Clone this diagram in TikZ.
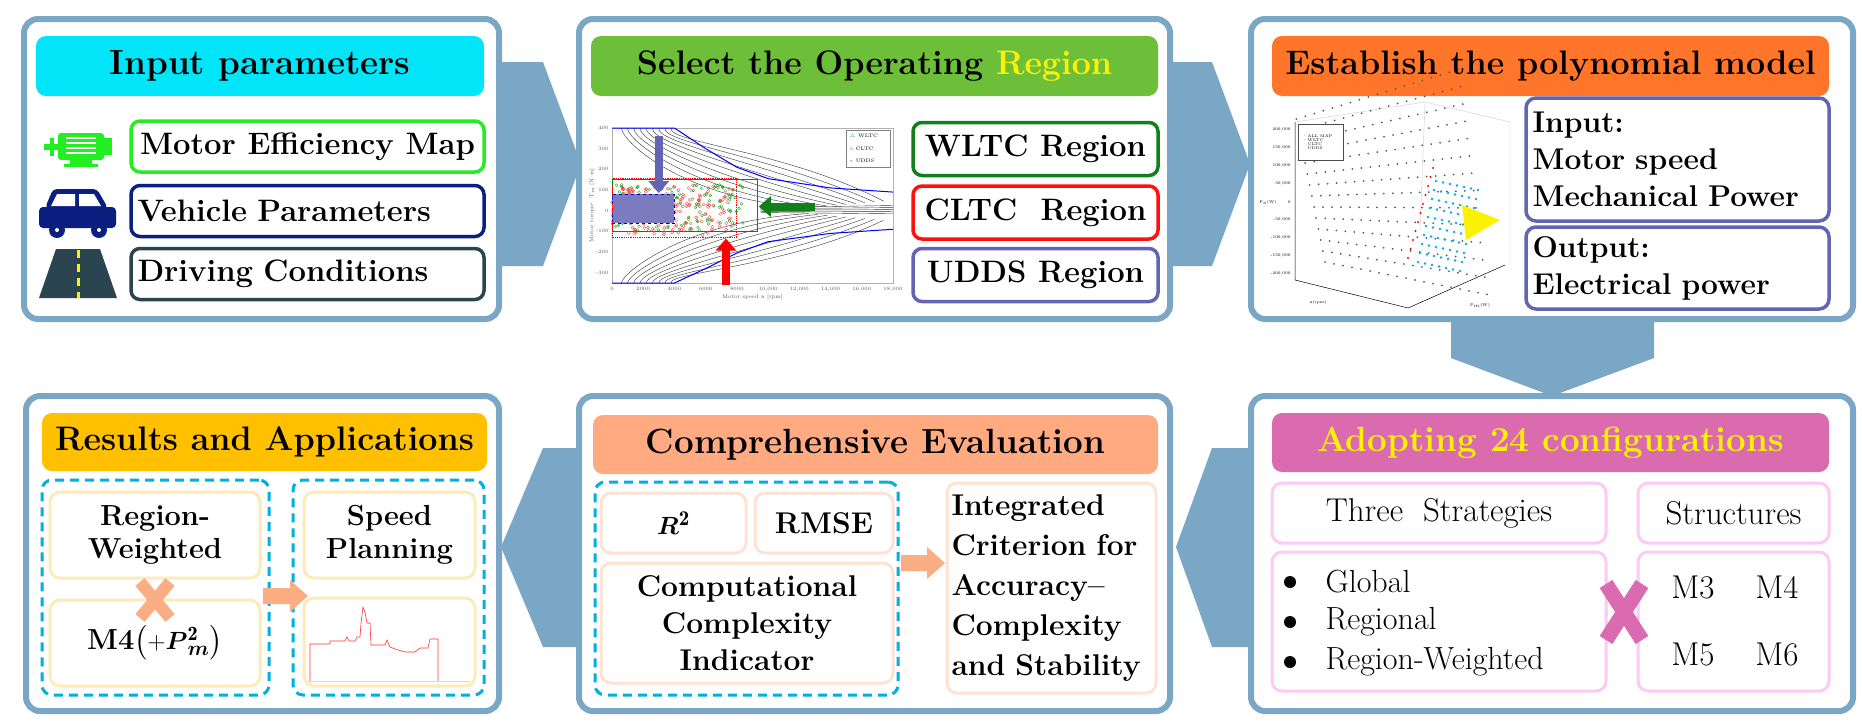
\documentclass[tikz,border=0pt]{standalone}
\usepackage{amsmath,amssymb}
\usepackage{fontspec}
\usetikzlibrary{arrows.meta}
\definecolor{pb}{HTML}{7BA7C7}
\definecolor{hcyan}{HTML}{00E5F7}
\definecolor{hgreen}{HTML}{6DBF3A}
\definecolor{horange}{HTML}{FF7529}
\definecolor{hmag}{HTML}{D96BAE}
\definecolor{hsal}{HTML}{FFAA80}
\definecolor{hgold}{HTML}{FFC000}
\definecolor{mgreen}{HTML}{22EE22}
\definecolor{navy}{HTML}{0A1F80}
\definecolor{slate}{HTML}{2B4550}
\definecolor{dgreen}{HTML}{11801A}
\definecolor{ured}{HTML}{FF1010}
\definecolor{upurp}{HTML}{6464B4}
\definecolor{dashb}{HTML}{00B0E0}
\definecolor{peach}{HTML}{FFE2D2}
\definecolor{cream}{HTML}{FFEBB8}
\definecolor{lpink}{HTML}{FFC8F5}
\definecolor{pinkx}{HTML}{DA6BB0}
\definecolor{orx}{HTML}{FBAE84}
\begin{document}
\begin{tikzpicture}[x=1pt,y=-1pt,
  panel/.style={draw=pb,line width=6pt,rounded corners=14pt,fill=white},
  head/.style={rounded corners=10pt,font=\fontsize{35}{38}\selectfont\bfseries},
  lbox/.style={draw,line width=3.5pt,rounded corners=9pt,fill=white,font=\fontsize{31}{34}\selectfont\bfseries},
  iobox/.style={draw=upurp,line width=3.5pt,rounded corners=10pt,align=left,font=\fontsize{30}{37}\selectfont\bfseries,text width=290pt},
  pkbox/.style={draw=lpink,line width=3pt,rounded corners=10pt,font=\fontsize{33}{36}\selectfont},
  pebox/.style={draw=peach,line width=3pt,rounded corners=10pt,align=center,font=\fontsize{30}{37}\selectfont\bfseries},
  crbox/.style={draw=cream,line width=3pt,rounded corners=10pt,align=center,font=\fontsize{29}{33}\selectfont\bfseries},
  dshbox/.style={draw=dashb,line width=3pt,dash pattern=on 9pt off 6pt,rounded corners=10pt},
  arr/.style={fill=pb},
  declare function={mx(\XX)=612+\XX*15.611; my(\YY)=283-(\YY+350)*0.206667;}]
\useasboundingbox (0,0) rectangle (1862,721);
\fill[white] (0,0) rectangle (1862,721);
% big arrows
\fill[arr] (480,62)--(543,62)--(581,164)--(543,266)--(480,266)--cycle;
\fill[arr] (1150,62)--(1212,62)--(1250,164)--(1212,266)--(1150,266)--cycle;
\fill[arr] (1451,300)--(1654,300)--(1654,358)--(1552,396)--(1451,358)--cycle;
\fill[arr] (1270,448)--(1212,448)--(1176,547)--(1212,647)--(1270,647)--cycle;
\fill[arr] (600,448)--(543,448)--(501,547)--(543,647)--(600,647)--cycle;
% panels
\node[panel,minimum width=475pt,minimum height=300pt] (p1) at (261.5,169) {};
\node[panel,minimum width=591pt,minimum height=300pt] (p2) at (874.5,169) {};
\node[panel,minimum width=602pt,minimum height=300pt] (p3) at (1552,169) {};
\node[panel,minimum width=473pt,minimum height=315pt] (p4) at (262.5,553.5) {};
\node[panel,minimum width=591pt,minimum height=315pt] (p5) at (874.5,553.5) {};
\node[panel,minimum width=602pt,minimum height=315pt] (p6) at (1552,553.5) {};
% headers
\node[head,fill=hcyan,minimum width=448pt,minimum height=60pt] (h1) at (260,66) {Input parameters};
\node[head,fill=hgreen,minimum width=567pt,minimum height=60pt,font=\fontsize{34}{38}\selectfont\bfseries] (h2) at (874.5,66) {Select the Operating \textcolor{yellow}{Region}};
\node[head,fill=horange,minimum width=557pt,minimum height=60pt,inner xsep=2pt,font=\fontsize{34}{38}\selectfont\bfseries] (h3) at (1550.5,66) {Establish the polynomial model};
\node[head,fill=hgold,minimum width=445pt,minimum height=58pt,inner xsep=2pt,font=\fontsize{34}{38}\selectfont\bfseries] (h4) at (264.5,442) {Results and Applications};
\node[head,fill=hsal,minimum width=565pt,minimum height=59pt] (h5) at (875.5,444.5) {Comprehensive Evaluation};
\node[head,fill=hmag,minimum width=557pt,minimum height=59pt,text=yellow] (h6) at (1550.5,442.5) {Adopting 24 configurations};
% panel 1
\node[lbox,draw=mgreen,minimum width=353pt,minimum height=51pt,inner xsep=2pt] (b1) at (307.5,146.5) {Motor Efficiency Map};
\node[lbox,draw=navy,minimum width=353pt,minimum height=51pt,text width=340pt,align=left] (b2) at (307.5,211) {Vehicle Parameters};
\node[lbox,draw=slate,minimum width=353pt,minimum height=51pt,text width=340pt,align=left] (b3) at (307.5,274) {Driving Conditions};
% motor icon
\fill[mgreen,rounded corners=3pt] (58,133) rectangle (104,160);
\fill[mgreen] (104,138) rectangle (112,155);
\fill[mgreen] (44,144) rectangle (58,150);
\fill[mgreen] (50,138) rectangle (54,156);
\fill[mgreen] (70,160) rectangle (92,164);\fill[mgreen] (64,164) rectangle (98,167);
\foreach \yy in {138,143,148,153}{\draw[white,line width=1.5pt] (66,\yy)--(96,\yy);}
% car icon
\fill[navy,rounded corners=4pt] (39,207) rectangle (116,228);
\fill[navy,rounded corners=4pt] (53,189)--(97,189)--(108,208)--(45,208)--cycle;
\fill[white] (57,194)--(75,194)--(75,206)--(51,206)--cycle;
\fill[white] (79,194)--(94,194)--(101,206)--(79,206)--cycle;
\fill[navy] (57,230) circle (8pt);\fill[navy] (99,230) circle (8pt);
\fill[white] (57,230) circle (2pt);\fill[white] (99,230) circle (2pt);
% road icon
\fill[slate] (56,249)--(100,249)--(117,298)--(39,298)--cycle;
\draw[yellow,line width=3pt,dash pattern=on 8pt off 6pt] (78,250)--(78,298);
% panel 2 region boxes
\node[lbox,draw=dgreen,minimum width=245pt,minimum height=53pt] (w) at (1035.5,149) {WLTC Region};
\node[lbox,draw=ured,minimum width=245pt,minimum height=53pt] (c) at (1035.5,212.5) {CLTC~ Region};
\node[lbox,draw=upurp,minimum width=245pt,minimum height=53pt] (u) at (1035.5,275) {UDDS Region};
% motor map chart
\begin{scope}
\draw[gray!60,line width=0.5pt] (612,128) rectangle (893,283);
\foreach \spd/\lb in {0/0,2/2000,4/4000,6/6000,8/8000,10/10{,}000,12/12{,}000,14/14{,}000,16/16{,}000,18/18{,}000}
  \node[font=\fontsize{5}{5}\selectfont,gray!70!black] at ({mx(\spd)},289) {\lb};
\foreach \tq in {400,300,200,100,0,-100,-200,-300}
  \node[font=\fontsize{5}{5}\selectfont,gray!70!black,anchor=east] at (612,{my(\tq)}) {\tq};
\node[font=\fontsize{5.5}{6}\selectfont,gray!70!black] at ({mx(9)},297) {Motor speed n [rpm]};
\node[font=\fontsize{5.5}{6}\selectfont,gray!70!black,rotate=90] at (592,{my(25)}) {Motor torque\ \ T$_m$ [N$\cdot$m]};
\foreach \k in {1,...,9}{
  \draw[black!80,line width=0.4pt] ({mx(12+0.6*\k)},{my(10+4*\k)}) .. controls ({mx(4+0.8*\k)},{my(20+30*\k)}) and ({mx(0.3+0.35*\k)},{my(330)}) .. ({mx(0.2+0.4*\k)},{my(400)});
  \draw[black!80,line width=0.4pt] ({mx(12+0.6*\k)},{my(-10-4*\k)}) .. controls ({mx(4+0.8*\k)},{my(-20-28*\k)}) and ({mx(0.3+0.35*\k)},{my(-300)}) .. ({mx(0.2+0.4*\k)},{my(-350)});}
\foreach \k in {1,...,5}{\draw[black!80,line width=0.4pt] ({mx(9.5)},{my(6*\k-15)})--({mx(18)},{my(10*\k-25)});}
\draw[blue,line width=1pt] ({mx(0)},{my(400)})--({mx(4)},{my(400)})--({mx(6)},{my(300)})--({mx(8)},{my(210)})--({mx(10)},{my(155)})--({mx(14)},{my(110)})--({mx(18)},{my(90)});
\draw[blue,line width=1pt] ({mx(0)},{my(-350)})--({mx(4)},{my(-350)})--({mx(6)},{my(-280)})--({mx(8)},{my(-205)})--({mx(10)},{my(-150)})--({mx(14)},{my(-110)})--({mx(18)},{my(-90)});
\draw[green!55!black,line width=0.6pt] ({mx(0)},{my(-100)}) rectangle ({mx(9.3)},{my(150)});
\pgfmathsetseed{7}
\foreach \i in {1,...,160}{
  \pgfmathsetmacro\sx{mx(rnd*8.5)}\pgfmathsetmacro\sy{my(rand*110+15)}
  \draw[green!60!black,line width=0.3pt] (\sx,\sy) circle (1.4pt);}
\foreach \i in {1,...,160}{
  \pgfmathsetmacro\sx{mx(rnd*7.8)}\pgfmathsetmacro\sy{my(rand*120)}
  \draw[red!80,line width=0.3pt] (\sx,\sy) circle (1.6pt);}
\fill[upurp!85] ({mx(0)},{my(-60)}) rectangle ({mx(4)},{my(80)});
\draw[blue!70!black,dashed,line width=0.5pt] ({mx(0)},{my(-60)}) rectangle ({mx(4)},{my(80)});
\draw[red,line width=0.8pt,densely dotted] ({mx(0)},{my(-130)}) rectangle ({mx(8)},{my(155)});
\draw[fill=white,draw=gray] ({mx(15)},{my(390)}) rectangle ({mx(17.8)},{my(210)});
\node[font=\fontsize{5}{5}\selectfont,anchor=west] at ({mx(15)},{my(360)}) {\textcolor{green!60!black}{$\triangle$} WLTC};
\node[font=\fontsize{5}{5}\selectfont,anchor=west] at ({mx(15)},{my(300)}) {\textcolor{red}{$\circ$} CLTC};
\node[font=\fontsize{5}{5}\selectfont,anchor=west] at ({mx(15)},{my(240)}) {\textcolor{upurp}{$\ast$} UDDS};
\draw[upurp,line width=8pt,-{Triangle[length=12pt,width=20pt]}] ({mx(3)},{my(360)})--({mx(3)},{my(85)});
\draw[dgreen,line width=8pt,-{Triangle[length=12pt,width=20pt]}] ({mx(13)},{my(20)})--({mx(9.4)},{my(20)});
\draw[red,line width=8pt,-{Triangle[length=12pt,width=20pt]}] ({mx(7.3)},{my(-360)})--({mx(7.3)},{my(-135)});
\end{scope}
% 3D plot
\begin{scope}
\draw[gray!40,line width=0.4pt] (1295,122)--(1425,102)--(1510,122)--(1510,265);
\draw[gray!40,line width=0.4pt] (1425,102)--(1420,230);
\draw[black,line width=0.5pt] (1295,122)--(1295,280)--(1408,308)--(1505,265);
\foreach \tq/\lb in {130/200{,}000,148/150{,}000,166/100{,}000,184/50{,}000,202/0,220/-50{,}000,238/-100{,}000,256/-150{,}000,274/-200{,}000}
  \node[font=\fontsize{4}{4}\selectfont,anchor=east] at (1294,\tq) {\lb};
\node[font=\fontsize{4}{4}\selectfont] at (1268,202) {P$_e$(W)};
\node[font=\fontsize{4}{4}\selectfont] at (1318,302) {n(rpm)};
\node[font=\fontsize{4}{4}\selectfont] at (1480,305) {P$_m$(W)};
\foreach \i in {0,...,18}{\foreach \j in {0,...,13}{
  \pgfmathsetmacro\px{1325+\i*9-\j*2.2}\pgfmathsetmacro\py{262-\j*11+\i*1.8-\i*\j*0.35}
  \fill[black!65] (\px,\py) circle (1pt);}}
\foreach \j in {0,...,10}{\fill[red] (1408+\j*2.5,258-\j*9) circle (1.2pt);}
\foreach \i in {0,...,6}{\foreach \j in {0,...,9}{\fill[cyan] (1418+\i*7+\j*2,262-\j*9+\i*1.5) circle (1.3pt);}}
\fill[yellow] (1462,205)--(1500,220)--(1466,240)--cycle;
\draw[fill=white,draw=black!70,line width=0.3pt] (1298,124) rectangle (1343,160);
\node[font=\fontsize{4}{4}\selectfont,anchor=west,align=left] at (1300,142) {\textcolor{black}{$\cdot$} ALL MAP\\\textcolor{red}{$\cdot$} WLTC\\\textcolor{cyan}{$\cdot$} CLTC\\\textcolor{yellow}{$\cdot$} UDDS};
\end{scope}
\node[iobox,minimum width=303pt,minimum height=123pt,inner xsep=4pt] (in) at (1677.5,159.5) {Input:\\Motor speed\\Mechanical Power};
\node[iobox,minimum width=303pt,minimum height=82pt,inner xsep=4pt] (out) at (1677.5,268) {Output:\\Electrical power};
% panel 6
\node[pkbox,minimum width=334pt,minimum height=60pt] (ts) at (1439,513) {Three~ Strategies};
\node[pkbox,minimum width=191pt,minimum height=60pt] (st) at (1733.5,513) {Structures};
\node[pkbox,minimum width=334pt,minimum height=139pt] (ls) at (1439,621.5) {};
\node[pkbox,minimum width=191pt,minimum height=139pt] (ms) at (1733.5,621.5) {};
\foreach \yy/\tx in {582/Global,622/Regional,662/Region-Weighted}{
  \fill (1290,\yy) circle (6pt);
  \node[font=\fontsize{32}{34}\selectfont,anchor=west] at (1322,\yy) {\tx};}
\node[font=\fontsize{33}{34}\selectfont] (m3) at (1693,587) {M3};
\node[font=\fontsize{33}{34}\selectfont] (m4b) at (1777,587) {M4};
\node[font=\fontsize{33}{34}\selectfont] (m5) at (1693,654) {M5};
\node[font=\fontsize{33}{34}\selectfont] (m6) at (1777,654) {M6};
\draw[pinkx,line width=15pt] (1606,584)--(1642,640) (1642,584)--(1606,640);
% panel 5
\node[dshbox,minimum width=303pt,minimum height=213pt] (d5) at (746.5,588.5) {};
\node[pebox,minimum width=145pt,minimum height=60pt] (rsq) at (673.5,523) {$\boldsymbol{R}^{\mathbf{2}}$};
\node[pebox,minimum width=138pt,minimum height=60pt] (rmse) at (824,523) {RMSE};
\node[pebox,minimum width=292pt,minimum height=120pt] (cc) at (747,623) {Computational\\Complexity\\Indicator};
\node[pebox,minimum width=209pt,minimum height=210pt,align=left,text width=200pt,inner xsep=3pt,font=\fontsize{30}{40}\selectfont\bfseries] (ic) at (1051.5,588) {Integrated\\Criterion for\\Accuracy--\\Complexity\\and Stability};
\fill[orx] (901,555)--(927,555)--(927,547)--(945,563)--(927,579)--(927,571)--(901,571)--cycle;
% panel 4
\node[dshbox,minimum width=227pt,minimum height=215pt] (d41) at (155.5,587.5) {};
\node[dshbox,minimum width=191pt,minimum height=215pt] (d42) at (388.5,587.5) {};
\node[crbox,minimum width=210pt,minimum height=86pt] (rw) at (155,535) {Region-\\Weighted};
\node[crbox,minimum width=210pt,minimum height=86pt,font=\fontsize{29}{31}\selectfont\bfseries] (mfour) at (155,643) {M4$\left(+\boldsymbol{P}_{\boldsymbol{m}}^{\mathbf{2}}\right)$};
\node[crbox,minimum width=171pt,minimum height=86pt] (spl) at (389.5,535) {Speed\\Planning};
\node[crbox,minimum width=171pt,minimum height=88pt] (pl) at (389.5,642) {};
\draw[red!80,line width=0.6pt] (310,681)--(310,644)--(330,644)--(330,641)--(345,641)--(347,637)--(349,641)--(355,641)--(357,637)--(360,637)--(361,623)--(363,607)--(365,612)--(367,623)--(370,623)--(371,645)--(385,645)--(387,640)--(390,647)--(395,649)--(405,652)--(415,652)--(420,648)--(428,648)--(430,639)--(438,639)--(438,681);
\draw[gray!30,line width=0.3pt] (308,681)--(470,681);
\draw[orx,line width=12pt] (140,582)--(170,618) (170,582)--(140,618);
\fill[orx] (263,588)--(290,588)--(290,580)--(308,596)--(290,612)--(290,604)--(263,604)--cycle;
\end{tikzpicture}
\end{document}
